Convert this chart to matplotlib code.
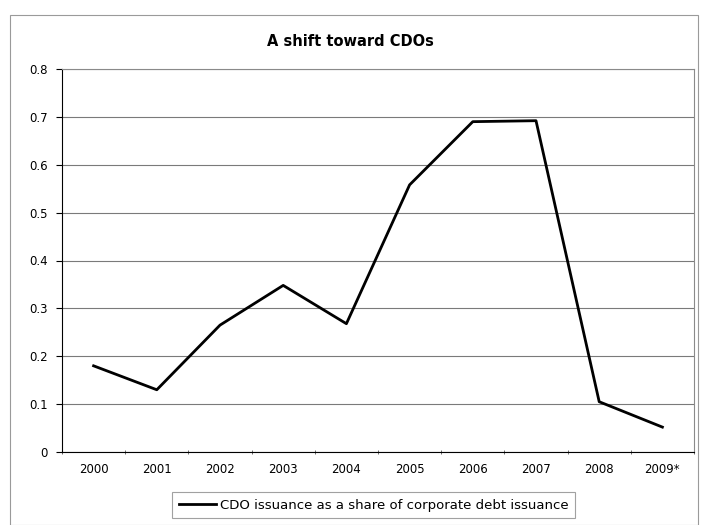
import matplotlib
matplotlib.use("Agg")
import matplotlib.pyplot as plt
from matplotlib.patches import Rectangle

years = ["2000", "2001", "2002", "2003", "2004", "2005", "2006", "2007", "2008", "2009*"]
cdo_share = [0.18, 0.13, 0.265, 0.348, 0.268, 0.558, 0.69, 0.692, 0.105, 0.052]
y_ticks = [0, 0.1, 0.2, 0.3, 0.4, 0.5, 0.6, 0.7, 0.8]
y_labels = ["0", "0.1", "0.2", "0.3", "0.4", "0.5", "0.6", "0.7", "0.8"]

plt.rcParams["font.family"] = ["DejaVu Sans"]

fig = plt.figure(figsize=(7.01, 5.25), dpi=100)
fig.patch.set_facecolor("white")

# outer chart-area border
fig.patches.append(Rectangle((10 / 701, 0.0), 688 / 701, 1 - 15 / 525,
                             transform=fig.transFigure, fill=False,
                             edgecolor="#9a9a9a", linewidth=0.8))

ax = fig.add_axes([62 / 701, 1 - 452 / 525, 632 / 701, (452 - 69) / 525])
x = list(range(len(years)))
line, = ax.plot(x, cdo_share, color="black", linewidth=2.0,
                label="CDO issuance as a share of corporate debt issuance")

ax.set_xlim(-0.5, len(years) - 0.5)
ax.set_ylim(0, 0.8)
ax.set_yticks(y_ticks)
ax.set_yticklabels(y_labels, fontsize=8.5)
ax.set_xticks(x)
ax.set_xticklabels(years, fontsize=8.5)
ax.tick_params(axis="x", length=0, pad=8)
ax.tick_params(axis="y", length=4, direction="out", width=0.8, pad=6)
# category boundary ticks on the x axis
ax.set_xticks([i - 0.5 for i in range(len(years) + 1)], minor=True)
ax.tick_params(axis="x", which="minor", length=3, direction="inout", width=0.6,
               color="#555555")

ax.grid(axis="y", color="#7a7a7a", linewidth=0.8)
ax.set_axisbelow(True)
for side in ("top", "right"):
    ax.spines[side].set_color("#8a8a8a")
    ax.spines[side].set_linewidth(0.8)
ax.spines["left"].set_color("black")
ax.spines["bottom"].set_color("black")

fig.text(0.5, 1 - 42 / 525, "A shift toward CDOs", ha="center",
         va="center", fontsize=10.5, fontweight="bold")

leg = fig.legend(handles=[line], loc="upper left", bbox_to_anchor=(172 / 701, 1 - 492 / 525),
                 fontsize=9.5, frameon=True, fancybox=False, handlelength=2.8,
                 borderpad=0.5, handletextpad=0.3, borderaxespad=0)
leg.get_frame().set_edgecolor("#8a8a8a")
leg.get_frame().set_linewidth(0.8)

fig.savefig("out.png", dpi=100, facecolor="white")
